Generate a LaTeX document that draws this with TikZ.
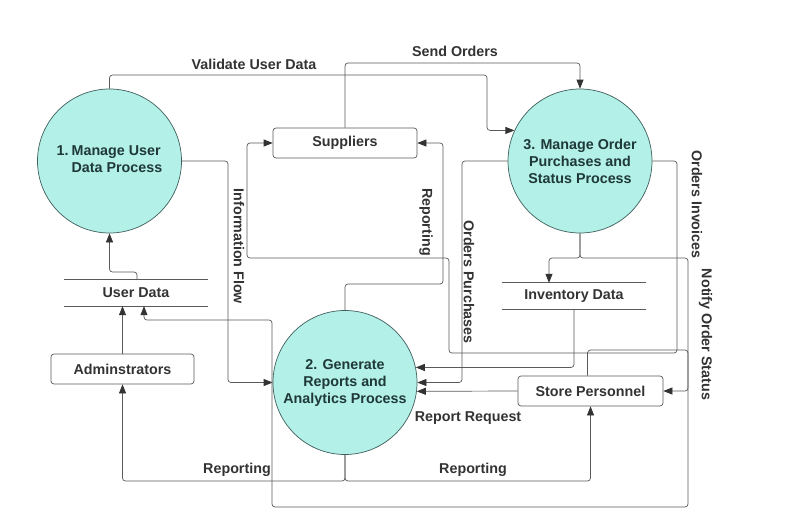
\documentclass[tikz,border=0pt]{standalone}
\usepackage{fontspec}
\setmainfont{Liberation Sans}
\usetikzlibrary{arrows.meta,calc}
\definecolor{linec}{HTML}{5A5A5A}
\definecolor{arrc}{HTML}{333333}
\definecolor{txt}{HTML}{333333}
\definecolor{ctxt}{HTML}{1F3838}
\definecolor{cfill}{HTML}{B3F0E8}
\definecolor{cline}{HTML}{3F5F5C}
\begin{document}
\begin{tikzpicture}[x=1pt,y=-1pt,
  fnt/.style={font=\fontsize{14.3}{17}\selectfont\bfseries},
  lbl/.style={fnt, text=txt, inner sep=0pt},
  proc/.style={circle, draw=cline, fill=cfill, line width=0.7pt, minimum size=144pt, inner sep=0pt, fnt, text=ctxt, align=center},
  ent/.style={draw=linec, rounded corners=3pt, line width=0.7pt, minimum height=30pt, fnt, text=txt},
  store/.style={minimum width=144pt, minimum height=26pt, inner sep=0pt, fnt, text=txt},
  storeline/.style={draw=linec, line width=0.7pt},
  flow/.style={draw=linec, line width=0.7pt, rounded corners=3pt, -{Triangle[length=9pt,width=7pt,color=arrc]}}
]
\useasboundingbox[fill=white] (0,0) rectangle (794,530);

% processes
\node[proc] (c1) at (109.5,161) {\begin{tabular}{@{}r@{\hspace{3pt}}l@{}}1.&Manage User\\&Data Process\end{tabular}};
\node[proc] (c2) at (345,382.5) {2. Generate\\Reports and\\Analytics Process};
\node[proc] (c3) at (580,161) {3. Manage Order\\Purchases and\\Status Process};

% entities
\node[ent, minimum width=144pt] (sup) at (345,143) {Suppliers};
\node[ent, minimum width=143pt] (adm) at (122.5,369) {Adminstrators};
\node[ent, minimum width=145pt] (sp) at (590.5,391) {Store Personnel};

% data stores
\node[store] (ud) at (136,293) {User Data};
\node[store] (inv) at (574,296) {Inventory Data};
\draw[storeline] (ud.north west) -- (ud.north east) (ud.south west) -- (ud.south east);
\draw[storeline] (inv.north west) -- (inv.north east) (inv.south west) -- (inv.south east);

% flows
\draw[flow] (c1.north) |- (487,75) |- (c3.155);
\draw[flow] (sup.north) |- (580,63) -- (c3.north);
\draw[flow] (c1.east) -| (228,382.5) -- (c2.west);
\draw[flow] (c3.east) -| (677,353) -| (449,258) -| (247,143) -- (sup.west);
\draw[flow] (c2.north) |- (443,284) |- (sup.east);
\draw[flow] (c3.west) -| (462,382.5) -- (c2.east);
\draw[flow] (c3.south) |- (549,258) -- ($(inv.north)+(-25,0)$);
\draw[flow] (c3.south) |- (688,258) |- (sp.east);
\draw[flow] ($(sp.north)+(-3,0)$) |- (688,350) |- (272,507) |- (144,320) -- ($(ud.south)+(8,0)$);
\draw[flow] (inv.south) |- (c2.12);
\draw[flow] (sp.west) -- (c2.-7);
\draw[flow] (c2.south) |- (122.5,481) -- (adm.south);
\draw[flow] (c2.south) |- (590.5,481) -- (sp.south);
\draw[flow] ($(ud.north)+(1,0)$) |- (109.5,272) -- (c1.south);
\draw[flow] (adm.north) -- (adm.north |- ud.south);

% labels
\node[lbl] (l1) at (254,64) {Validate User Data};
\node[lbl] (l2) at (455,51) {Send Orders};
\node[lbl, rotate=-90] (l3) at (239,246.5) {Information Flow};
\node[lbl, rotate=-90] (l4) at (426,222) {Reporting};
\node[lbl, rotate=-90] (l5) at (469,282) {Orders Purchases};
\node[lbl, rotate=-90] (l6) at (697,204.5) {Orders Invoices};
\node[lbl, rotate=-90] (l7) at (705.5,334.5) {Notify Order Status};
\node[lbl] (l8) at (468,418) {Report Request};
\node[lbl] (l9) at (237,470) {Reporting};
\node[lbl] (l10) at (473,470) {Reporting};
\end{tikzpicture}
\end{document}
